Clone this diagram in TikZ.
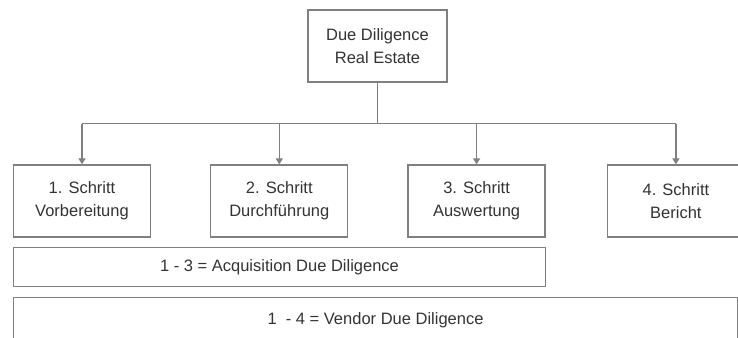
\documentclass[tikz,border=0pt]{standalone}
\usepackage{fontspec}
\setmainfont{Liberation Sans}
\usetikzlibrary{positioning, arrows.meta}

\begin{document}
\begin{tikzpicture}[
    x=1pt, y=1pt,
    node distance=59pt,
    stepbox/.style={
        rectangle,
        draw=black!50,
        line width=1.3pt,
        minimum width=137pt,
        minimum height=72pt,
        inner sep=0pt,
        align=center,
        text=black!80,
        font=\fontsize{16.5}{23}\selectfont
    },
    rangebox/.style={stepbox, minimum height=39pt},
    link/.style={draw=black!50, line width=1.3pt},
    arr/.style={link, -{Triangle[width=7pt,length=6pt]}}
]
    \useasboundingbox (0,0) rectangle (738,337);
    \clip (0,0) rectangle (738,337);

    % Top
    \node[stepbox, minimum width=139pt] (dd) at (377.5,291) {Due Diligence\\Real Estate};

    % Steps
    \node[stepbox] (s1) at (82,136) {1. Schritt\\Vorbereitung};
    \node[stepbox, right=of s1] (s2) {2. Schritt\\Durchführung};
    \node[stepbox, right=59pt of s2] (s3) {3. Schritt\\Auswertung};
    \node[stepbox, right=61pt of s3] (s4) {4. Schritt\\Bericht};

    % Ranges
    \node[rangebox, minimum width=532pt, below right=9pt and 0pt of s1.south west] (acq) {1 - 3 = Acquisition Due Diligence};
    \node[rangebox, minimum width=724pt, minimum height=45pt, below right=10pt and 0pt of acq.south west] (vdd) {1 \ - 4 = Vendor Due Diligence};

    % Connectors
    \draw[link] (dd.south) -- ++(0,-41) coordinate (bus);
    \draw[link] (bus -| s1) -- (bus -| s4);
    \foreach \s in {s1,s2,s3,s4}
        \draw[arr] (bus -| \s) -- (\s.north);
\end{tikzpicture}
\end{document}
